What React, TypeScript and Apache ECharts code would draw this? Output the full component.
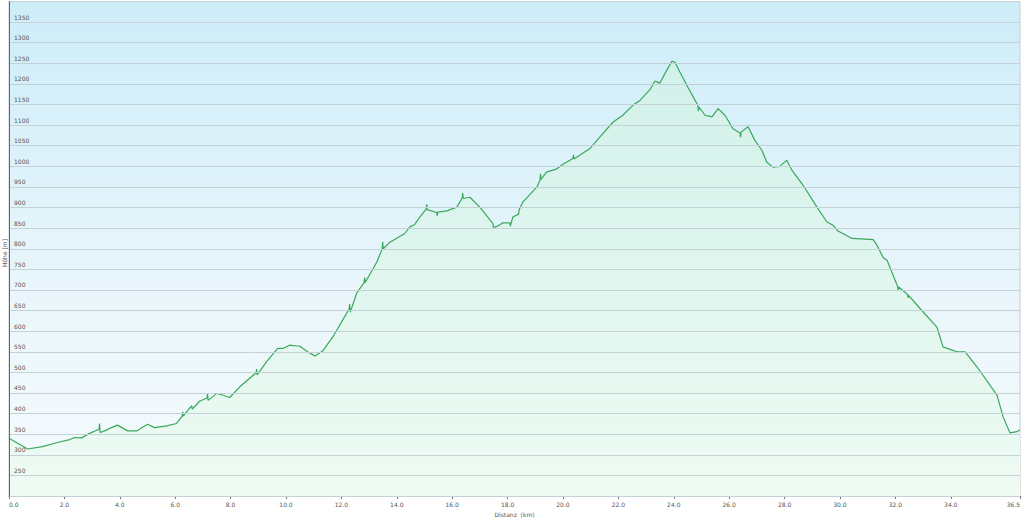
import React, { useEffect, useRef } from "react";
import * as echarts from "echarts";

const distanceKm: number[] = [
  0.0, 0.67, 1.21, 1.82, 2.19, 2.37, 2.62, 2.91, 3.25, 3.27, 3.29, 3.45, 3.63, 3.92, 4.28, 4.61, 5.0, 5.26,
  5.69, 6.05, 6.25, 6.27, 6.29, 6.52, 6.6, 6.62, 6.88, 7.15, 7.17, 7.19, 7.5, 7.71, 7.97, 8.33, 8.92, 8.94,
  8.96, 9.3, 9.7, 9.89, 10.13, 10.39, 10.49, 10.78, 11.04, 11.33, 11.69, 12.28, 12.3, 12.32, 12.55, 12.82,
  12.84, 12.86, 13.28, 13.47, 13.49, 13.51, 13.75, 14.29, 14.47, 14.65, 14.83, 15.06, 15.08, 15.1, 15.44,
  15.46, 15.48, 15.81, 16.17, 16.36, 16.38, 16.4, 16.64, 17.0, 17.47, 17.49, 17.65, 17.83, 18.08, 18.1,
  18.19, 18.4, 18.42, 18.55, 19.06, 19.17, 19.19, 19.21, 19.4, 19.78, 20.0, 20.36, 20.38, 20.4, 20.97,
  21.33, 21.8, 22.16, 22.52, 22.78, 23.14, 23.32, 23.5, 23.68, 23.93, 24.04, 24.22, 24.51, 24.87, 24.89,
  24.91, 25.13, 25.38, 25.6, 25.85, 26.14, 26.39, 26.41, 26.43, 26.68, 26.93, 27.18, 27.36, 27.58, 27.83,
  28.08, 28.27, 28.67, 29.17, 29.53, 29.75, 29.93, 30.44, 31.2, 31.34, 31.56, 31.7, 32.08, 32.1, 32.12,
  32.44, 32.46, 32.48, 32.89, 33.5, 33.72, 34.05, 34.23, 34.52, 34.95, 35.67, 35.89, 36.14, 36.39, 36.5,
];

const elevationM: number[] = [
  340, 314, 320, 331, 337, 342, 341, 352, 362, 376, 354, 358, 364, 372, 358, 358, 374, 366,
  370, 376, 394, 404, 394, 413, 419, 411, 430, 438, 448, 432, 449, 445, 439, 465, 499, 508,
  494, 526, 558, 558, 566, 564, 564, 550, 540, 552, 586, 654, 666, 646, 692, 718,
  730, 718, 768, 799, 816, 800, 816, 837, 853, 859, 877, 896, 908, 895, 888,
  880, 889, 892, 901, 923, 935, 922, 925, 901, 861,
  852, 855, 863, 863, 855,
  877, 884, 895, 913, 950, 966, 982, 968, 986, 994, 1005, 1019, 1028, 1018, 1043,
  1071, 1107, 1124, 1148, 1160, 1186, 1207, 1202, 1225, 1255, 1253, 1229, 1192, 1148, 1134,
  1144, 1124, 1120, 1140, 1124, 1091, 1081, 1071, 1083, 1096, 1063, 1039, 1010, 998, 1000,
  1015, 990, 954, 901, 865, 857, 843, 825, 822, 808, 779, 772, 709, 700, 707,
  689, 681, 687, 655, 610, 562, 554, 550, 550, 513, 445, 392, 353, 356, 360,
];

const xTickValues: number[] = [0, 2, 4, 6, 8, 10, 12, 14, 16, 18, 20, 22, 24, 26, 28, 30, 32, 34, 36.5];

const xAxisTitle = "Distanz  (km)";
const yAxisTitle = "Höhe [m]";

export default function App() {
  const ref = useRef<HTMLDivElement>(null);

  useEffect(() => {
    if (!ref.current) return;
    const chart = echarts.init(ref.current, undefined, { renderer: "svg" });
    const data = distanceKm.map((d, i) => [d, elevationM[i]]);
    const font = "DejaVu Sans, Verdana, sans-serif";
    chart.setOption({
      animation: false,
      grid: {
        left: 9,
        right: 4,
        top: 1.5,
        bottom: 22,
        containLabel: false,
        outerBoundsMode: "none",
        show: true,
        borderColor: "#c3ccd0",
        borderWidth: 1,
        backgroundColor: new echarts.graphic.LinearGradient(0, 0, 0, 1, [
          { offset: 0, color: "#cdedf9" },
          { offset: 0.6, color: "#eaf6fb" },
          { offset: 1, color: "#f6fbfd" },
        ]),
      },
      graphic: [
        {
          type: "text",
          x: 4.5,
          y: 253,
          rotation: Math.PI / 2,
          style: {
            text: yAxisTitle,
            fontFamily: font,
            fontSize: 6,
            fill: "#555",
            align: "center",
            verticalAlign: "middle",
          },
        },
      ],
      xAxis: {
        type: "value",
        min: 0,
        max: 36.5,
        name: xAxisTitle,
        nameLocation: "middle",
        nameGap: 13,
        nameTextStyle: { fontFamily: font, fontSize: 6, color: "#555" },
        axisLine: { show: true, lineStyle: { color: "#555", width: 1 } },
        axisTick: { show: true, customValues: xTickValues, length: 3, lineStyle: { color: "#777" } },
        axisLabel: {
          customValues: xTickValues,
          formatter: (v: number) => v.toFixed(1),
          fontFamily: font,
          fontSize: 6,
          color: "#555",
          margin: 5,
          alignMinLabel: "left",
          alignMaxLabel: "right",
        },
        splitLine: { show: false },
      },
      yAxis: {
        type: "value",
        min: 200,
        max: 1400,
        interval: 50,
        axisLine: { show: true, lineStyle: { color: "#666", width: 1 } },
        axisTick: { show: false },
        axisLabel: {
          inside: true,
          showMinLabel: false,
          showMaxLabel: false,
          hideOverlap: false,
          formatter: (v: number) => String(v),
          fontFamily: font,
          fontSize: 6,
          color: "#555",
          margin: 5,
          verticalAlign: "bottom",
          padding: [0, 0, 2, 0],
        },
        splitLine: { show: true, lineStyle: { color: "#c4d2d8", width: 1 } },
        z: 5,
      },
      series: [
        {
          type: "line",
          data,
          showSymbol: false,
          symbol: "none",
          z: 2,
          lineStyle: { color: "#3aa85c", width: 1.2 },
          areaStyle: {
            color: new echarts.graphic.LinearGradient(0, 0, 0, 1, [
              { offset: 0, color: "#d2f1ea" },
              { offset: 1, color: "#eefbf3" },
            ]),
            opacity: 1,
          },
        },
      ],
    });
    return () => chart.dispose();
  }, []);

  return <div ref={ref} style={{ width: 1024, height: 518, position: "absolute", left: 0, top: 0 }} />;
}
